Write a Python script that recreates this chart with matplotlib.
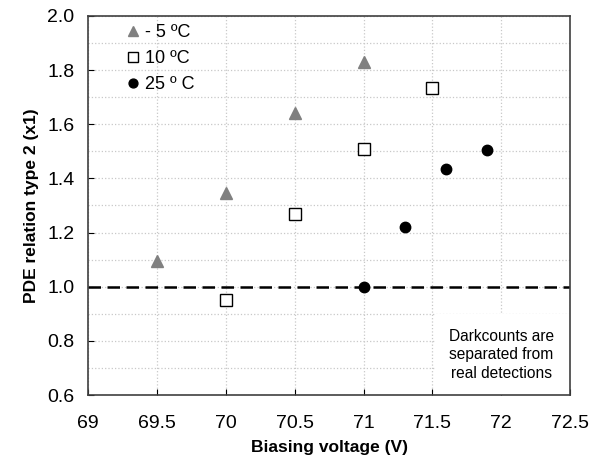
import matplotlib.pyplot as plt
from matplotlib.patches import Rectangle
from matplotlib.ticker import MultipleLocator

plt.rcParams['font.family'] = ['Liberation Sans', 'DejaVu Sans']

v_m5 = [69.5, 70.0, 70.5, 71.0]
pde_m5 = [1.095, 1.345, 1.64, 1.83]

v_10 = [70.0, 70.5, 71.0, 71.5]
pde_10 = [0.95, 1.27, 1.51, 1.735]

v_25 = [71.0, 71.3, 71.6, 71.9]
pde_25 = [1.0, 1.22, 1.435, 1.505]

fig = plt.figure(figsize=(6, 4.67), dpi=100)
ax = fig.add_axes([0.147, 0.154, 0.803, 0.812])

ax.plot(v_m5, pde_m5, linestyle='none', marker='^', color='#808080',
        markersize=9, label='- 5 ºC', zorder=3)
ax.plot(v_10, pde_10, linestyle='none', marker='s', markerfacecolor='white',
        markeredgecolor='black', markeredgewidth=1, markersize=8.5, label='10 ºC',
        zorder=3)
ax.plot(v_25, pde_25, linestyle='none', marker='o', color='black',
        markersize=7.5, label='25 º C', zorder=3)

ax.axhline(1.0, color='black', linestyle=(0, (5, 2.6)), linewidth=1.8, zorder=2)

ax.set_xlim(69, 72.5)
ax.set_ylim(0.6, 2.0)
ax.xaxis.set_major_locator(MultipleLocator(0.5))
ax.yaxis.set_major_locator(MultipleLocator(0.2))
ax.yaxis.set_minor_locator(MultipleLocator(0.1))
ax.yaxis.set_major_formatter(plt.FormatStrFormatter('%.1f'))
ax.xaxis.set_major_formatter(plt.FuncFormatter(lambda x, p: ('%g' % x)))

ax.grid(True, which='both', color='#c8c8c8', linestyle=':', linewidth=0.9)
ax.set_axisbelow(True)
ax.tick_params(which='major', direction='in', length=4, labelsize=14,
               colors='black')
ax.tick_params(axis='x', pad=14)
ax.tick_params(axis='y', pad=10)
ax.tick_params(which='minor', length=0)
for s in ax.spines.values():
    s.set_color('#404040')
    s.set_linewidth(1.2)

ax.set_xlabel('Biasing voltage (V)', fontsize=12.5, fontweight='bold', labelpad=6)
ax.set_ylabel('PDE relation type 2 (x1)', fontsize=12.5, fontweight='bold', labelpad=6)

ax.legend(loc='upper left', bbox_to_anchor=(0.042, 1.012), frameon=False,
          fontsize=13, handletextpad=0.0, borderaxespad=0.3, labelspacing=0.5,
          handlelength=1.3, borderpad=0.4, markerscale=0.85)

# white note box hides the grid in the lower right corner
ax.add_patch(Rectangle((71.52, 0.6), 0.98, 0.3, facecolor='white',
                       edgecolor='none', zorder=1))
ax.text(72.0, 0.748, 'Darkcounts are\nseparated from\nreal detections',
        ha='center', va='center', fontsize=11.2, linespacing=1.3, zorder=4)

fig.savefig('out.png', dpi=100)
